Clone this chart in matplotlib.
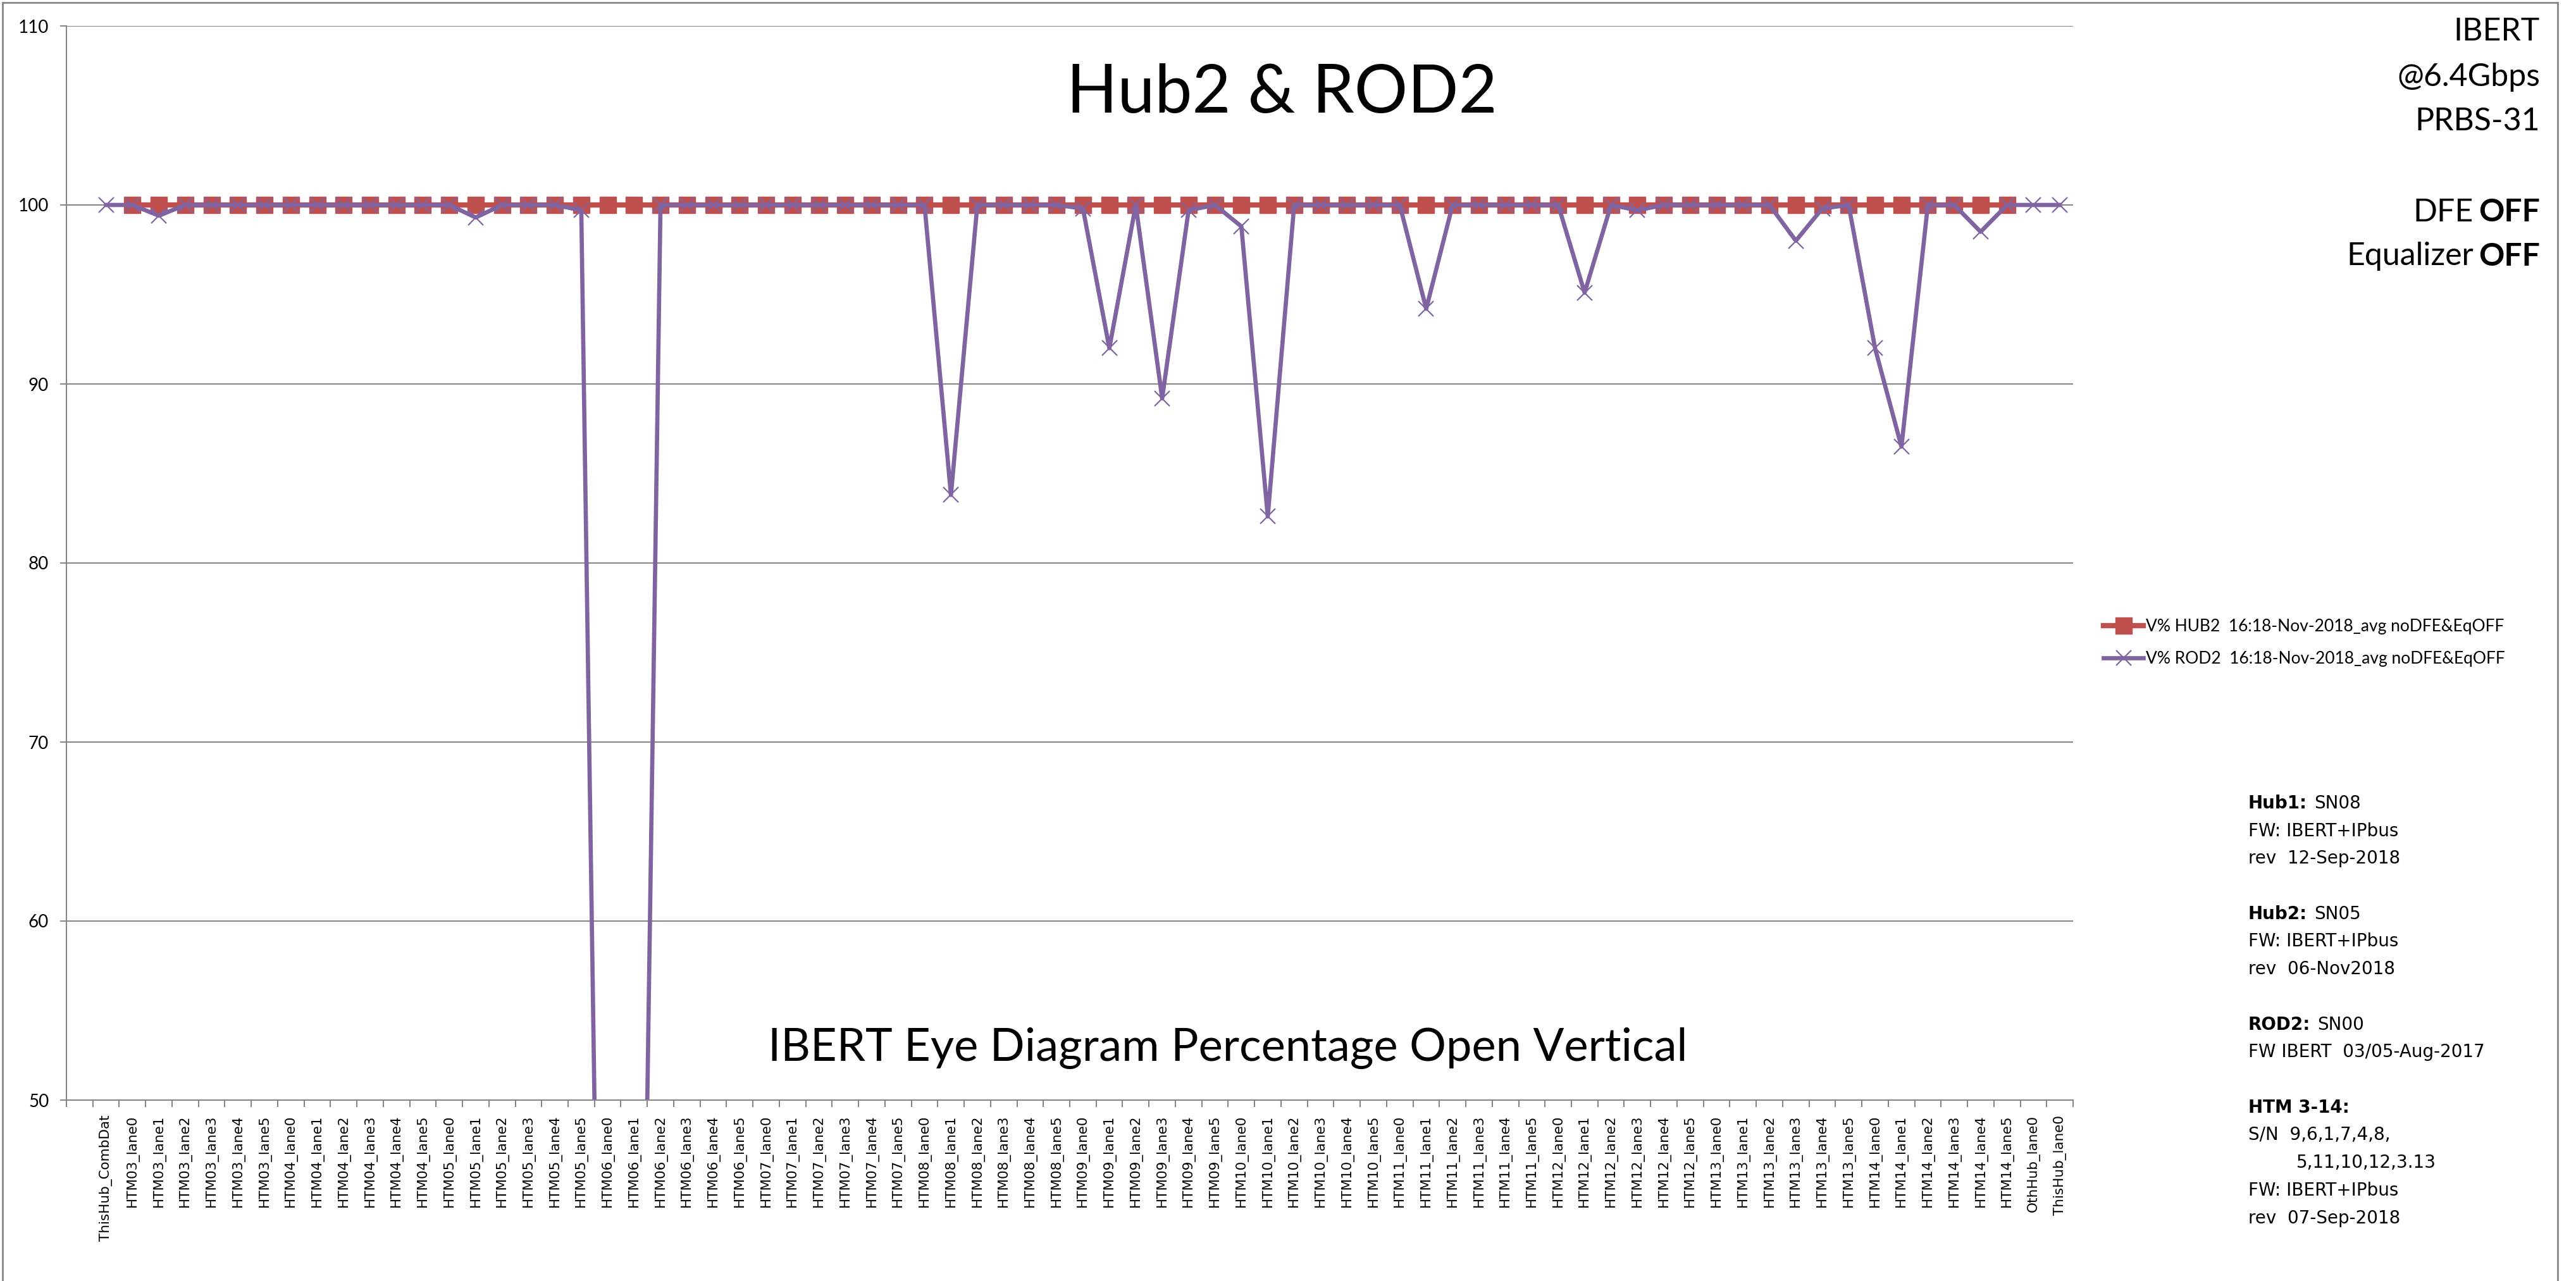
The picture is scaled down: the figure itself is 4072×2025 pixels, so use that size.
import numpy as np
import matplotlib.pyplot as plt

# category labels
modules = ['HTM03', 'HTM04', 'HTM05', 'HTM06', 'HTM07', 'HTM08',
           'HTM09', 'HTM10', 'HTM11', 'HTM12', 'HTM13', 'HTM14']
lanes = ['lane0', 'lane1', 'lane2', 'lane3', 'lane4', 'lane5']
categories = ['ThisHub_CombDat']
for m in modules:
    for l in lanes:
        categories.append(m + '_' + l)
categories += ['OthHub_lane0', 'ThisHub_lane0']

nan = np.nan
# V% HUB2 (no value for first and last two categories)
hub2 = [nan,
        100, 100, 100, 100, 100, 100,   # HTM03
        100, 100, 100, 100, 100, 100,   # HTM04
        100, 100, 100, 100, 100, 100,   # HTM05
        100, 100, 100, 100, 100, 100,   # HTM06
        100, 100, 100, 100, 100, 100,   # HTM07
        100, 100, 100, 100, 100, 100,   # HTM08
        100, 100, 100, 100, 100, 100,   # HTM09
        100, 100, 100, 100, 100, 100,   # HTM10
        100, 100, 100, 100, 100, 100,   # HTM11
        100, 100, 100, 100, 100, 100,   # HTM12
        100, 100, 100, 100, 100, 100,   # HTM13
        100, 100, 100, 100, 100, 100,   # HTM14
        nan, nan]
# V% ROD2
rod2 = [100,
        100, 99.4, 100, 100, 100, 100,    # HTM03
        100, 100, 100, 100, 100, 100,     # HTM04
        100, 99.3, 100, 100, 100, 99.7,   # HTM05
        0, 0, 100, 100, 100, 100,         # HTM06
        100, 100, 100, 100, 100, 100,     # HTM07
        100, 83.8, 100, 100, 100, 100,    # HTM08
        99.8, 92.0, 100, 89.2, 99.7, 100, # HTM09
        98.8, 82.6, 100, 100, 100, 100,   # HTM10
        100, 94.2, 100, 100, 100, 100,    # HTM11
        100, 95.1, 100, 99.7, 100, 100,   # HTM12
        100, 100, 100, 98.0, 99.8, 100,   # HTM13
        92.0, 86.5, 100, 100, 98.5, 100,  # HTM14
        100, 100]

yticks = [50, 60, 70, 80, 90, 100, 110]

W, H = 4072, 2025
RED = '#C0504D'
PURPLE = '#8064A2'
GRID = '#868686'

fig = plt.figure(figsize=(W / 100, H / 100), dpi=100)
ax = fig.add_axes([105 / W, 1 - 1739 / H, (3277 - 105) / W, (1739 - 41) / H])

x = np.arange(len(categories))
ax.plot(x, hub2, color=RED, lw=6, marker='s', ms=19, mec=RED,
        label='V% HUB2  16:18-Nov-2018_avg noDFE&EqOFF')
ax.plot(x, rod2, color=PURPLE, lw=4.8, marker='x', ms=17, mew=1.6,
        label='V% ROD2  16:18-Nov-2018_avg noDFE&EqOFF')

ax.set_xlim(-1.5, len(categories) - 0.5)
ax.set_ylim(50, 110)
ax.set_yticks(yticks)
ax.set_yticklabels([str(v) for v in yticks], family='Lato', fontsize=20)
ax.grid(axis='y', color=GRID, lw=1.5)
ax.set_axisbelow(True)

ax.set_xticks(np.arange(-1.5, len(categories), 1))
ax.set_xticks(x, minor=True)
ax.set_xticklabels(categories, minor=True, rotation=90, fontsize=15.5)
ax.tick_params(axis='x', which='major', length=8, width=1.5, color=GRID, labelbottom=False)
ax.tick_params(axis='x', which='minor', length=0, pad=17)
ax.tick_params(axis='y', length=7, width=1.5, color=GRID, pad=13)
for s in ['top', 'right']:
    ax.spines[s].set_visible(False)
for s in ['left', 'bottom']:
    ax.spines[s].set_color(GRID)
    ax.spines[s].set_linewidth(1.5)

ax.legend(loc='center left', bbox_to_anchor=(3325 / W, 1 - 1016 / H),
          bbox_transform=fig.transFigure, frameon=False,
          prop={'family': 'Lato', 'size': 19}, handlelength=2.4,
          handletextpad=0.15, labelspacing=1.0, borderpad=0, borderaxespad=0)

fig.text(2026 / W, 1 - 148 / H, 'Hub2 & ROD2', ha='center', va='center',
         fontsize=76, family='Lato')
fig.text(1941 / W, 1 - 1657 / H, 'IBERT Eye Diagram Percentage Open Vertical',
         ha='center', va='center', fontsize=52, family='Lato')

# run conditions, top right
rx = 4015 / W
for txt, yy in [('IBERT', 50), ('@6.4Gbps', 122), ('PRBS-31', 192)]:
    fig.text(rx, 1 - yy / H, txt, ha='right', va='center', fontsize=36, family='Lato')
for txt, yy in [('DFE', 336), ('Equalizer', 406)]:
    t = fig.text(rx, 1 - yy / H, 'OFF', ha='right', va='center', fontsize=36,
                 family='Lato', weight='bold')
    ax.annotate(txt, xy=(0, 0), xycoords=t, xytext=(-6, 0), textcoords='offset points',
                ha='right', va='bottom', fontsize=36, family='Lato')

# board notes
nx = 3554 / W
y0 = 1270
dy = 43.7
fs = 20
def note(line, bold, rest='', xpos=nx):
    yy = 1 - (y0 + line * dy) / H
    if bold:
        t = fig.text(xpos, yy, bold, fontsize=fs, weight='bold', va='center')
        if rest:
            ax.annotate(rest, xy=(1, 0), xycoords=t, xytext=(8, 0),
                        textcoords='offset points', ha='left', va='bottom', fontsize=fs)
    else:
        fig.text(xpos, yy, rest, fontsize=fs, va='center')

note(0, 'Hub1:', 'SN08')
note(1, '', 'FW: IBERT+IPbus')
note(2, '', 'rev  12-Sep-2018')
note(4, 'Hub2:', 'SN05')
note(5, '', 'FW: IBERT+IPbus')
note(6, '', 'rev  06-Nov2018')
note(8, 'ROD2:', 'SN00')
note(9, '', 'FW IBERT  03/05-Aug-2017')
note(11, 'HTM 3-14:')
note(12, '', 'S/N  9,6,1,7,4,8,')
note(13, '', '5,11,10,12,3.13', xpos=3630 / W)
note(14, '', 'FW: IBERT+IPbus')
note(15, '', 'rev  07-Sep-2018')

# outer chart frame
fig.add_artist(plt.Rectangle((4 / W, -0.01), (4043 - 4) / W, 1.01 - 4 / H,
                             transform=fig.transFigure, fill=False,
                             edgecolor=GRID, lw=2))

fig.savefig('out.png', dpi=100)
